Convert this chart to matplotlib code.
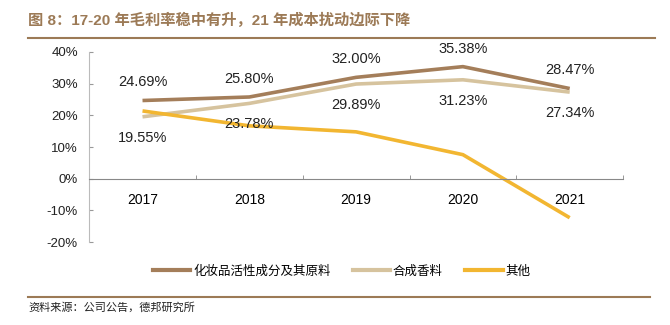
import matplotlib
matplotlib.use("Agg")
import matplotlib.pyplot as plt
from matplotlib.lines import Line2D

plt.rcParams['font.family'] = ['Liberation Sans', 'Noto Sans CJK SC', 'DejaVu Sans']

# dados
anos = ["2017", "2018", "2019", "2020", "2021"]
ativos = [24.69, 25.80, 32.00, 35.38, 28.47]
sinteticos = [19.55, 23.78, 29.89, 31.23, 27.34]
outros = [21.4, 16.7, 14.8, 7.6, -12.3]
nomes = ["化妆品活性成分及其原料", "合成香料", "其他"]
cores = ["#A47E5A", "#D6C39E", "#F2B631"]

titulo = "图 8：17-20 年毛利率稳中有升，21 年成本扰动边际下降"
fonte = "资料来源：公司公告，德邦研究所"

fig = plt.figure(figsize=(6.7, 3.25), dpi=100)
ax = fig.add_axes([0.133, 0.255, 0.797, 0.585])

x = list(range(len(anos)))
for serie, cor in zip([ativos, sinteticos, outros], cores):
    ax.plot(x, serie, color=cor, lw=2.6, solid_capstyle="butt")

# rótulos
for i in x:
    ax.annotate(f"{ativos[i]:.2f}%", (i, ativos[i]), xytext=(0, 13),
                textcoords="offset points", ha="center", va="center",
                fontsize=10.5, color="#222222")
    ax.annotate(f"{sinteticos[i]:.2f}%", (i, sinteticos[i]), xytext=(0, -15),
                textcoords="offset points", ha="center", va="center",
                fontsize=10.5, color="#222222")

ax.set_xlim(-0.5, 4.5)
ax.set_ylim(-20, 40)
ax.set_yticks(range(-20, 41, 10))
ax.set_yticklabels([f"{v}%" for v in range(-20, 41, 10)], fontsize=9.5, color="#222222")

ax.set_xticks(x)
ax.set_xticklabels(anos, fontsize=9.5, color="#222222")
ax.set_xticks([i - 0.5 for i in range(len(anos) + 1)], minor=True)
ax.tick_params(axis="x", which="major", length=0, pad=10)
ax.tick_params(axis="x", which="minor", direction="in", length=3, color="#888888")
ax.tick_params(axis="y", direction="in", length=3, color="#999999", pad=8)

for s in ["top", "right"]:
    ax.spines[s].set_visible(False)
ax.spines["bottom"].set_position(("data", 0))
ax.spines["bottom"].set_color("#888888")
ax.spines["left"].set_color("#BBBBBB")

# legenda
handles = [Line2D([], [], color=c, lw=3) for c in cores]
fig.legend(handles, nomes, loc="center", bbox_to_anchor=(0.51, 0.166), ncol=3,
           frameon=False, fontsize=9, handlelength=3, handletextpad=0.2,
           columnspacing=1.8, prop={'family': ['Noto Sans CJK SC'], 'size': 9})

# título e fonte
fig.text(0.042, 0.938, titulo, fontsize=11, fontweight="bold", color="#9C7A56",
         va="center", ha="left")
fig.add_artist(Line2D([0.042, 0.978], [0.883, 0.883], color="#9C7A56", lw=1.5))
fig.add_artist(Line2D([0.042, 0.97], [0.086, 0.086], color="#9C7A56", lw=1.5))
fig.text(0.042, 0.055, fonte, fontsize=8, color="#222222", va="center", ha="left")

fig.savefig("out.png", dpi=100)
